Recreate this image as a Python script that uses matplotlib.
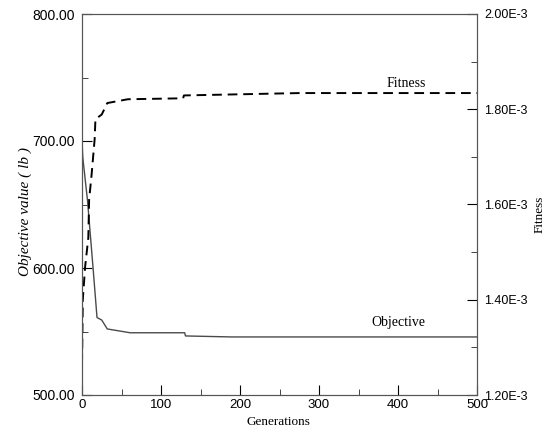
import matplotlib
matplotlib.use("Agg")
from matplotlib import pyplot as plt
from matplotlib.ticker import MultipleLocator, FormatStrFormatter

# Objective value (lb) per generation
obj_gen = [0, 0, 1, 7, 14, 19, 25, 32, 61, 130, 131, 190, 500]
obj_val = [792, 700, 687, 653, 600, 561, 559, 552, 549, 549, 546.5, 545.7, 545.7]

# Fitness (x1E-3) per generation
fit_gen = [0, 1, 4, 8, 9, 12, 16, 17, 25, 32, 58, 128, 129, 276, 500]
fit_val = [1.265, 1.40, 1.47, 1.53, 1.61, 1.66, 1.737, 1.779, 1.789, 1.813,
           1.821, 1.823, 1.829, 1.834, 1.834]

x_ticks = [0, 100, 200, 300, 400, 500]
left_ticks = [500, 600, 700, 800]
right_ticks = [1.20e-3, 1.40e-3, 1.60e-3, 1.80e-3, 2.00e-3]
right_labels = ["1.20E-3", "1.40E-3", "1.60E-3", "1.80E-3", "2.00E-3"]

sans = "Liberation Sans"
serif = "Liberation Serif"

fig = plt.figure(figsize=(5.48, 4.30), dpi=100)
ax = fig.add_axes([82 / 548, 1 - 395 / 430, (477 - 82) / 548, (395 - 14) / 430])
ax2 = ax.twinx()

ax.plot(obj_gen, obj_val, color="#4a4a4a", lw=1.0)
ax2.plot(fit_gen, [v * 1e-3 for v in fit_val], color="black", lw=1.4,
         dashes=(5, 3))

ax.set_xlim(0, 500)
ax.set_ylim(500, 800)
ax2.set_ylim(1.2e-3, 2.0e-3)

ax.set_xticks(x_ticks)
ax.set_yticks(left_ticks)
ax2.set_yticks(right_ticks)
ax2.set_yticklabels(right_labels)
ax.xaxis.set_minor_locator(MultipleLocator(50))
ax.yaxis.set_minor_locator(MultipleLocator(50))
ax2.yaxis.set_minor_locator(MultipleLocator(0.1e-3))
ax.yaxis.set_major_formatter(FormatStrFormatter("%.2f"))

for a in (ax, ax2):
    a.tick_params(which="major", direction="in", length=7, width=0.8,
                  pad=5, colors="black")
    a.tick_params(which="minor", direction="in", length=4, width=0.7,
                  colors="#444444")
    for s in a.spines.values():
        s.set_linewidth(0.8)
        s.set_color("#555555")
ax.tick_params(axis="x", labelsize=9.5, pad=3)
ax.tick_params(axis="y", labelsize=10)
ax2.tick_params(axis="y", labelsize=9, pad=5)
for lab in ax.get_xticklabels() + ax.get_yticklabels() + ax2.get_yticklabels():
    lab.set_fontfamily(sans)

fig.text(25 / 548, 1 - 211 / 430, "Objective value ( lb )", rotation=90,
         ha="center", va="center", family=serif, style="italic", fontsize=11)
fig.text(278 / 548, 1 - 422 / 430, "Generations", ha="center", va="center",
         family=serif, fontsize=9.5)
fig.text(540 / 548, 1 - 214 / 430, "Fitness", rotation=90, ha="center",
         va="center", family=serif, fontsize=9.5)

ax2.text(410, 1.855e-3, "Fitness", family=serif, fontsize=10,
         ha="center", va="center")
ax.text(400, 557, "Objective", family=serif, fontsize=10,
        ha="center", va="center")

fig.savefig("out.png", dpi=100)
